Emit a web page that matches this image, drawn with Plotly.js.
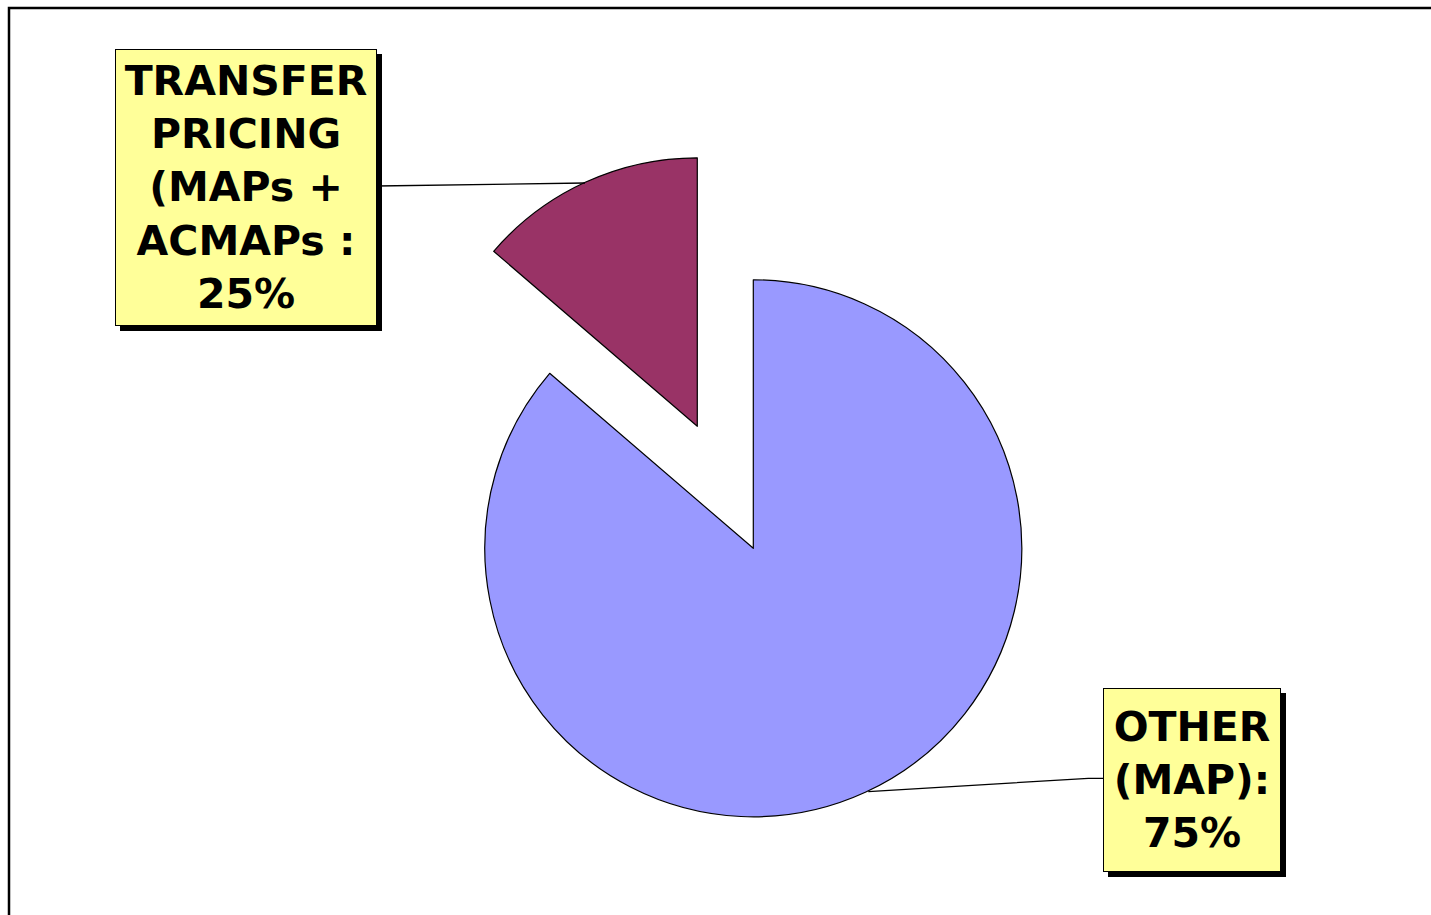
<!DOCTYPE html>
<html><head><meta charset="utf-8">
<script src="https://cdn.plot.ly/plotly-3.0.1.min.js"></script>
<style>html,body{margin:0;padding:0;background:#fff;overflow:hidden}#chart{width:1431px;height:915px}</style>
</head><body><div id="chart"></div>
<script>
// ---- data ----
const categories = ['OTHER (MAP)', 'TRANSFER PRICING (MAPs + ACMAPs)'];
const values = [86.3, 13.7];
const labelTexts = ['OTHER<br>(MAP):<br>75%', 'TRANSFER<br>PRICING<br>(MAPs +<br>ACMAPs :<br>25%'];
const sliceColors = ['#9999FF', '#993366'];
const pulls = [0, 0.5];

// ---- layout helpers ----
const W = 1431, H = 915;
const R = 268.5;              // pie radius (px)
const cx = 753.3, cy = 548.3; // pie centre (px)
const px = x => x / W;
const py = y => 1 - y / H;
const dom = (x, y) => ({x: [px(x - R), px(x + R)], y: [py(y + R), py(y - R)]});

const total = values.reduce((a, b) => a + b, 0);
const theta = (values[1] / total) * Math.PI; // half-angle of the pulled slice, which ends at 12 o'clock
const offX = -Math.sin(theta) * pulls[1] * R;
const offY = -Math.cos(theta) * pulls[1] * R;
const clear = 'rgba(0,0,0,0)';

const base = {
  type: 'pie', labels: categories, values: values, sort: false,
  direction: 'clockwise', rotation: 0, textinfo: 'none',
  hoverinfo: 'skip', showlegend: false
};
const traces = [
  Object.assign({}, base, {
    domain: dom(cx, cy),
    marker: {colors: [sliceColors[0], clear], line: {color: '#000', width: [1.2, 0]}}
  }),
  Object.assign({}, base, {
    domain: dom(cx + offX, cy + offY),
    marker: {colors: [clear, sliceColors[1]], line: {color: '#000', width: [0, 1.2]}}
  })
];

const font = {family: 'DejaVu Sans, Verdana, sans-serif', size: 41, color: '#000', weight: 700};
function box(text, x, y, w, h) {
  return {
    xref: 'paper', yref: 'paper', x: px(x), y: py(y), xanchor: 'center', yanchor: 'middle',
    text: text, showarrow: false, align: 'center', font: font,
    width: w, height: h, borderpad: 4, borderwidth: 1,
    bgcolor: '#FFFF99', bordercolor: '#000'
  };
}
const annotations = [
  box(labelTexts[1], 246, 187.5, 252, 267),
  box(labelTexts[0], 1192, 780, 168, 174)
];
function shadow(x, y, w, h) {
  return {type: 'rect', xref: 'paper', yref: 'paper', layer: 'above',
    x0: px(x - w / 2 + 5), x1: px(x + w / 2 + 5), y0: py(y - h / 2 + 5), y1: py(y + h / 2 + 5),
    fillcolor: '#000', line: {width: 0}};
}

const shapes = [
  {type: 'path', xref: 'paper', yref: 'paper',
   path: `M ${px(9)},${py(920)} L ${px(9)},${py(8)} L ${px(1435)},${py(8)}`,
   line: {color: '#000', width: 2.5}},
  {type: 'line', xref: 'paper', yref: 'paper', x0: px(377), y0: py(186), x1: px(585), y1: py(183),
   line: {color: '#000', width: 1.3}},
  {type: 'path', xref: 'paper', yref: 'paper',
   path: `M ${px(1103)},${py(778.3)} L ${px(1088.3)},${py(778.3)} L ${px(868.3)},${py(791.7)}`,
   line: {color: '#000', width: 1.3}},
  shadow(246, 187.5, 262, 277),
  shadow(1192, 780, 178, 184)
];

Plotly.newPlot('chart', traces, {
  width: W, height: H, margin: {l: 0, r: 0, t: 0, b: 0},
  paper_bgcolor: '#fff', plot_bgcolor: '#fff',
  annotations: annotations, shapes: shapes
}, {staticPlot: true, displayModeBar: false});
</script>
</body></html>
